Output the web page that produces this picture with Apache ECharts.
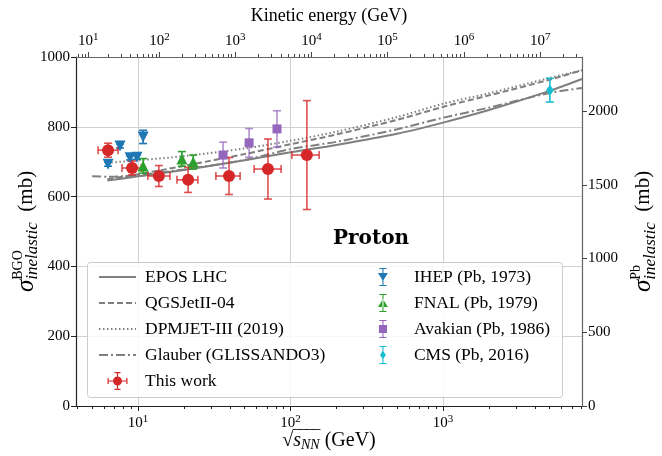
<!DOCTYPE html>
<html lang="en">
<head>
    <meta charset="UTF-8">
    <title>Proton inelastic cross section</title>
    <script src="https://cdn.jsdelivr.net/npm/echarts@6/dist/echarts.min.js"></script>
    <style type="text/css">
        html, body { margin: 0; padding: 0; background: #fff; }
    </style>
</head>
<body>
<div id="main" style="width: 662px;height:456px;"></div>
<script type="text/javascript">
    // ---- data (sqrt(s_NN) in GeV, cross sections in mb, BGO scale) ----
    var thisWorkX = [6.36, 9.14, 13.7, 21.3, 39.5, 71.1, 128];
    var thisWorkXLow = [5.47, 7.85, 11.6, 18.0, 32.4, 57.7, 102];
    var thisWorkXHigh = [7.40, 10.5, 16.2, 24.7, 46.7, 86.7, 154];
    var thisWorkY = [733, 682, 659, 648, 659, 679, 719];
    var thisWorkErr = [20, 20, 30, 36, 53, 86, 156];

    var ihepX = [6.36, 7.62, 8.87, 9.85, 10.8];
    var ihepY = [693, 745, 711, 713, 771];
    var ihepErr = [6, 6, 6, 6, 19];

    var fnalX = [10.8, 19.4, 23.0];
    var fnalY = [688, 708, 699];
    var fnalErr = [21, 21, 20];

    var avakianX = [36.1, 53.5, 81.5];
    var avakianY = [719, 754, 794];
    var avakianErr = [37, 41, 52];

    var cmsX = [5020];
    var cmsY = [905];
    var cmsErr = [34];

    var modelX = [6.3, 10, 20, 50, 100, 200, 500, 1000, 2000, 5000, 8150];
    var eposY = [646, 658, 676, 704, 727, 748, 780, 812, 848, 903, 937];
    var qgsY = [650, 664, 688, 722, 750, 778, 820, 857, 890, 935, 962];
    var dpmY = [697, 704, 716, 738, 760, 786, 828, 866, 896, 940, 962];
    var glauberX = [5.0, 6.3, 10, 20, 50, 100, 200, 500, 1000, 2000, 5000, 8150];
    var glauberY = [658, 657, 662, 678, 705, 736, 757, 793, 826, 855, 897, 911];

    // axis ticks
    var bottomTicks = [10, 100, 1000];
    var topTicks = [1e1, 1e2, 1e3, 1e4, 1e5, 1e6, 1e7];   // kinetic energy
    var rightTicks = [0, 500, 1000, 1500, 2000];
    var xMin = 3.92, xMax = 8150;
    var mp = 0.938;

    var lg = Math.log10;
    // kinetic energy of a proton on a fixed nucleon -> sqrt(s_NN)
    function ekToSqrtS(ek) { return Math.sqrt(4 * mp * mp + 2 * mp * ek); }

    var bottomMajor = bottomTicks.map(lg);
    var bottomMinor = [];
    var topMajor = topTicks.map(function (e) { return lg(ekToSqrtS(e)); });
    var topMinor = [];
    for (var k = 0; k <= 7; k++) {
        for (var m = 2; m <= 9; m++) {
            var v = m * Math.pow(10, k);
            if (v > xMin && v < xMax) bottomMinor.push(lg(v));
            var t = lg(ekToSqrtS(v));
            if (t > lg(xMin) && t < lg(xMax)) topMinor.push(t);
        }
    }

    function pts(xs, ys) {
        return xs.map(function (x, i) { return [lg(x), ys[i]]; });
    }
    function errData(xs, ys, es, xl, xh) {
        return xs.map(function (x, i) {
            return [lg(x), ys[i], ys[i] - es[i], ys[i] + es[i],
                xl ? lg(xl[i]) : NaN, xh ? lg(xh[i]) : NaN];
        });
    }
    function errRender(color, cap) {
        return function (params, api) {
            var c = api.coord([api.value(0), api.value(1)]);
            var lo = api.coord([api.value(0), api.value(2)]);
            var hi = api.coord([api.value(0), api.value(3)]);
            var st = { stroke: color, lineWidth: 1.6 };
            var ch = [
                { type: 'line', shape: { x1: c[0], y1: lo[1], x2: c[0], y2: hi[1] }, style: st },
                { type: 'line', shape: { x1: c[0] - cap, y1: lo[1], x2: c[0] + cap, y2: lo[1] }, style: st },
                { type: 'line', shape: { x1: c[0] - cap, y1: hi[1], x2: c[0] + cap, y2: hi[1] }, style: st }
            ];
            if (!isNaN(api.value(4))) {
                var l = api.coord([api.value(4), api.value(1)]);
                var r = api.coord([api.value(5), api.value(1)]);
                ch.push({ type: 'line', shape: { x1: l[0], y1: c[1], x2: r[0], y2: c[1] }, style: st });
                ch.push({ type: 'line', shape: { x1: l[0], y1: c[1] - cap, x2: l[0], y2: c[1] + cap }, style: st });
                ch.push({ type: 'line', shape: { x1: r[0], y1: c[1] - cap, x2: r[0], y2: c[1] + cap }, style: st });
            }
            return { type: 'group', children: ch };
        };
    }

    var FONT = 'Liberation Serif';
    var GRAY = '#7f7f7f';
    var RED = '#d62728', BLUE = '#1f77b4', GREEN = '#2ca02c', PURPLE = '#9467bd', CYAN = '#17becf';

    var supRich = {
        sup: { fontSize: 11, fontFamily: FONT, color: '#000', padding: [0, 0, 8, 0] }
    };
    function powLabel(exp) { return '10{sup|' + exp + '}'; }

    // legend icons: marker + error bars (circle drawn clockwise so it stays filled)
    var iconThisWork = 'path://M5.5,10a4.5,4.5 0 1,1 9,0a4.5,4.5 0 1,1 -9,0zM0,9.4h20v1.2h-20zM0,7h1.2v6h-1.2zM18.8,7h1.2v6h-1.2zM9.4,1h1.2v18h-1.2zM7,1h6v1.2h-6zM7,17.8h6v1.2h-6z';
    var iconIhep = 'path://M9.4,0h1.2v20h-1.2zM6,0h8v1.2h-8zM6,18.8h8v1.2h-8zM4.5,5.5h11l-5.5,9z';
    var iconFnal = 'path://M9.4,0h1.2v20h-1.2zM6,0h8v1.2h-8zM6,18.8h8v1.2h-8zM4.5,14.5h11l-5.5,-9z';
    var iconAvakian = 'path://M9.4,0h1.2v20h-1.2zM6,0h8v1.2h-8zM6,18.8h8v1.2h-8zM5.5,5.5h9v9h-9z';
    var iconCms = 'path://M9.4,0h1.2v20h-1.2zM6,0h8v1.2h-8zM6,18.8h8v1.2h-8zM10,5l3.2,5l-3.2,5l-3.2,-5z';

    var myChart = echarts.init(document.getElementById('main'));

    // sigma with stacked super/subscript: the superscript token has zero width
    var sigmaRich = {
        s: { fontSize: 25, fontFamily: FONT, fontStyle: 'italic', color: '#000', lineHeight: 30, align: 'left' },
        up: { fontSize: 14, fontFamily: FONT, color: '#000', width: 0, verticalAlign: 'top', lineHeight: 30, align: 'left' },
        lo: { fontSize: 17, fontFamily: FONT, fontStyle: 'italic', color: '#000', verticalAlign: 'bottom', lineHeight: 30, align: 'left' },
        t: { fontSize: 21, fontFamily: FONT, color: '#000', lineHeight: 30, align: 'left' }
    };
    // sqrt(s_NN) with an overline drawn by a zero-width token
    var sqrtRich = {
        r: { fontSize: 20, fontFamily: FONT, color: '#000', align: 'left', lineHeight: 26 },
        bar: { fontSize: 20, fontFamily: FONT, color: '#000', width: 0, align: 'left', lineHeight: 26 },
        s: { fontSize: 20, fontFamily: FONT, fontStyle: 'italic', color: '#000', align: 'left', lineHeight: 26 },
        sub: { fontSize: 14, fontFamily: FONT, fontStyle: 'italic', color: '#000', align: 'left', lineHeight: 26, padding: [9, 0, 0, 0] },
        t: { fontSize: 20, fontFamily: FONT, color: '#000', align: 'left', lineHeight: 26 }
    };

    var option = {
        animation: false,
        backgroundColor: '#fff',
        grid: { left: 76, right: 80, top: 57, bottom: 50, containLabel: false, outerBoundsMode: 'none' },
        xAxis: [
            {   // bottom, major
                type: 'value', position: 'bottom', min: lg(xMin), max: lg(xMax),
                name: '{r|√}{bar|‾‾‾‾}{s|s}{sub|NN}{t| (GeV)}',
                nameLocation: 'middle', nameGap: 22, nameMoveOverlap: false,
                nameTextStyle: { fontFamily: FONT, fontSize: 20, color: '#000', rich: sqrtRich },
                axisLine: { lineStyle: { color: '#222', width: 1.2 } },
                axisTick: { customValues: bottomMajor, length: 5, lineStyle: { color: '#222' } },
                axisLabel: {
                    customValues: bottomMajor, margin: 8,
                    fontFamily: FONT, fontSize: 15, color: '#000', rich: supRich,
                    formatter: function (v) { return powLabel(Math.round(v)); }
                },
                splitLine: { show: true, lineStyle: { color: '#d0d0d0', width: 1 } }
            },
            {   // bottom, minor ticks
                type: 'value', position: 'bottom', min: lg(xMin), max: lg(xMax),
                axisLine: { show: false },
                axisTick: { customValues: bottomMinor, length: 3, lineStyle: { color: '#222' } },
                axisLabel: { show: false },
                splitLine: { show: false }
            },
            {   // top, kinetic energy, major
                type: 'value', position: 'top', min: lg(xMin), max: lg(xMax),
                name: 'Kinetic energy (GeV)',
                nameLocation: 'middle', nameGap: 32,
                nameTextStyle: { fontFamily: FONT, fontSize: 18, color: '#000' },
                axisLine: { lineStyle: { color: '#666', width: 1.2 } },
                axisTick: { customValues: topMajor, length: 5, lineStyle: { color: '#444' } },
                axisLabel: {
                    customValues: topMajor, margin: 6,
                    fontFamily: FONT, fontSize: 15, color: '#000', rich: supRich,
                    formatter: function (v) {
                        var best = 0;
                        for (var i = 0; i < topMajor.length; i++) {
                            if (Math.abs(topMajor[i] - v) < Math.abs(topMajor[best] - v)) best = i;
                        }
                        return powLabel(Math.round(lg(topTicks[best])));
                    }
                },
                splitLine: { show: false }
            },
            {   // top, minor ticks
                type: 'value', position: 'top', min: lg(xMin), max: lg(xMax),
                axisLine: { show: false },
                axisTick: { customValues: topMinor, length: 3, lineStyle: { color: '#444' } },
                axisLabel: { show: false },
                splitLine: { show: false }
            }
        ],
        yAxis: [
            {
                type: 'value', position: 'left', min: 0, max: 1000, interval: 200,
                name: '{s|σ}{up|BGO}{lo|inelastic}{t|  (mb)}',
                nameLocation: 'middle', nameGap: 35, nameRotate: 90, nameMoveOverlap: false,
                nameTextStyle: { rich: sigmaRich },
                axisLine: { show: true, lineStyle: { color: '#222', width: 1.2 } },
                axisTick: { show: true, length: 5, lineStyle: { color: '#222' } },
                axisLabel: {
                    fontFamily: FONT, fontSize: 15, color: '#000', margin: 6,
                    formatter: function (v) { return String(v); }
                },
                splitLine: { show: true, lineStyle: { color: '#d0d0d0', width: 1 } }
            },
            {
                type: 'value', position: 'right', min: 0, max: 2367,
                name: '{s|σ}{up|Pb}{lo|inelastic}{t|  (mb)}',
                nameLocation: 'middle', nameGap: 40, nameRotate: 90,
                nameTextStyle: { rich: sigmaRich },
                axisLine: { show: true, lineStyle: { color: '#666', width: 1.2 } },
                axisTick: { show: true, customValues: rightTicks, length: 5, lineStyle: { color: '#444' } },
                axisLabel: {
                    customValues: rightTicks,
                    fontFamily: FONT, fontSize: 15, color: '#000', margin: 6,
                    formatter: function (v) { return String(v); }
                },
                splitLine: { show: false }
            }
        ],
        legend: [
            {
                orient: 'vertical', left: 93, top: 263, itemGap: 8,
                itemWidth: 37, itemHeight: 18,
                itemStyle: { opacity: 0 },
                textStyle: { fontFamily: FONT, fontSize: 17.5, color: '#000', padding: [0, 0, 0, 4] },
                data: ['EPOS LHC', 'QGSJetII-04', 'DPMJET-III (2019)', 'Glauber (GLISSANDO3)',
                    { name: 'This work', icon: iconThisWork, itemStyle: { opacity: 1 } }],
                z: 20
            },
            {
                orient: 'vertical', left: 373, top: 263, itemGap: 8,
                itemWidth: 18, itemHeight: 18,
                textStyle: { fontFamily: FONT, fontSize: 17.5, color: '#000', padding: [0, 0, 0, 17] },
                data: [
                    { name: 'IHEP (Pb, 1973)', icon: iconIhep },
                    { name: 'FNAL (Pb, 1979)', icon: iconFnal },
                    { name: 'Avakian (Pb, 1986)', icon: iconAvakian },
                    { name: 'CMS (Pb, 2016)', icon: iconCms }
                ],
                z: 20
            }
        ],
        graphic: [
            {
                type: 'rect', left: 87, top: 262, z: 15,
                shape: { width: 475, height: 135, r: 3 },
                style: { fill: 'rgba(255,255,255,0.85)', stroke: '#cccccc', lineWidth: 1 }
            },
            {
                type: 'text', left: 333, top: 229, z: 15,
                style: { text: 'Proton', fontFamily: 'DejaVu Serif', fontSize: 20, fontWeight: 'bold', fill: '#000' }
            }
        ],
        series: [
            {
                name: 'EPOS LHC', type: 'line', symbol: 'none', smooth: 0.3,
                data: pts(modelX, eposY), z: 3,
                itemStyle: { color: GRAY },
                lineStyle: { color: GRAY, width: 2, type: 'solid' }
            },
            {
                name: 'QGSJetII-04', type: 'line', symbol: 'none', smooth: 0.3,
                data: pts(modelX, qgsY), z: 3,
                itemStyle: { color: GRAY },
                lineStyle: { color: GRAY, width: 2, type: [6, 3] }
            },
            {
                name: 'DPMJET-III (2019)', type: 'line', symbol: 'none', smooth: 0.3,
                data: pts(modelX, dpmY), z: 3,
                itemStyle: { color: GRAY },
                lineStyle: { color: GRAY, width: 2, type: [1.5, 2.5] }
            },
            {
                name: 'Glauber (GLISSANDO3)', type: 'line', symbol: 'none', smooth: 0.3,
                data: pts(glauberX, glauberY), z: 3,
                itemStyle: { color: GRAY },
                lineStyle: { color: GRAY, width: 2, type: [9, 3, 2, 3] }
            },
            {
                name: 'IHEP err', type: 'custom', z: 4,
                renderItem: errRender(BLUE, 4), data: errData(ihepX, ihepY, ihepErr)
            },
            {
                name: 'FNAL err', type: 'custom', z: 4,
                renderItem: errRender(GREEN, 4), data: errData(fnalX, fnalY, fnalErr)
            },
            {
                name: 'Avakian err', type: 'custom', z: 4,
                renderItem: errRender('rgba(148,103,189,0.75)', 4), data: errData(avakianX, avakianY, avakianErr)
            },
            {
                name: 'CMS err', type: 'custom', z: 4,
                renderItem: errRender(CYAN, 4), data: errData(cmsX, cmsY, cmsErr)
            },
            {
                name: 'This work err', type: 'custom', z: 5,
                renderItem: errRender('rgba(214,39,40,0.8)', 4),
                data: errData(thisWorkX, thisWorkY, thisWorkErr, thisWorkXLow, thisWorkXHigh)
            },
            {
                name: 'IHEP (Pb, 1973)', type: 'scatter', symbol: 'triangle', symbolRotate: 180,
                symbolSize: 11, z: 6, itemStyle: { color: BLUE, opacity: 1 }, data: pts(ihepX, ihepY)
            },
            {
                name: 'FNAL (Pb, 1979)', type: 'scatter', symbol: 'triangle',
                symbolSize: 11, z: 6, itemStyle: { color: GREEN, opacity: 1 }, data: pts(fnalX, fnalY)
            },
            {
                name: 'Avakian (Pb, 1986)', type: 'scatter', symbol: 'rect',
                symbolSize: 9, z: 6, itemStyle: { color: PURPLE, opacity: 1 }, data: pts(avakianX, avakianY)
            },
            {
                name: 'CMS (Pb, 2016)', type: 'scatter', symbol: 'diamond',
                symbolSize: [8, 11], z: 6, itemStyle: { color: CYAN, opacity: 1 }, data: pts(cmsX, cmsY)
            },
            {
                name: 'This work', type: 'scatter', symbol: 'circle',
                symbolSize: 12, z: 7, itemStyle: { color: RED, opacity: 1 }, data: pts(thisWorkX, thisWorkY)
            }
        ]
    };
    myChart.setOption(option);
</script>
</body>
</html>
